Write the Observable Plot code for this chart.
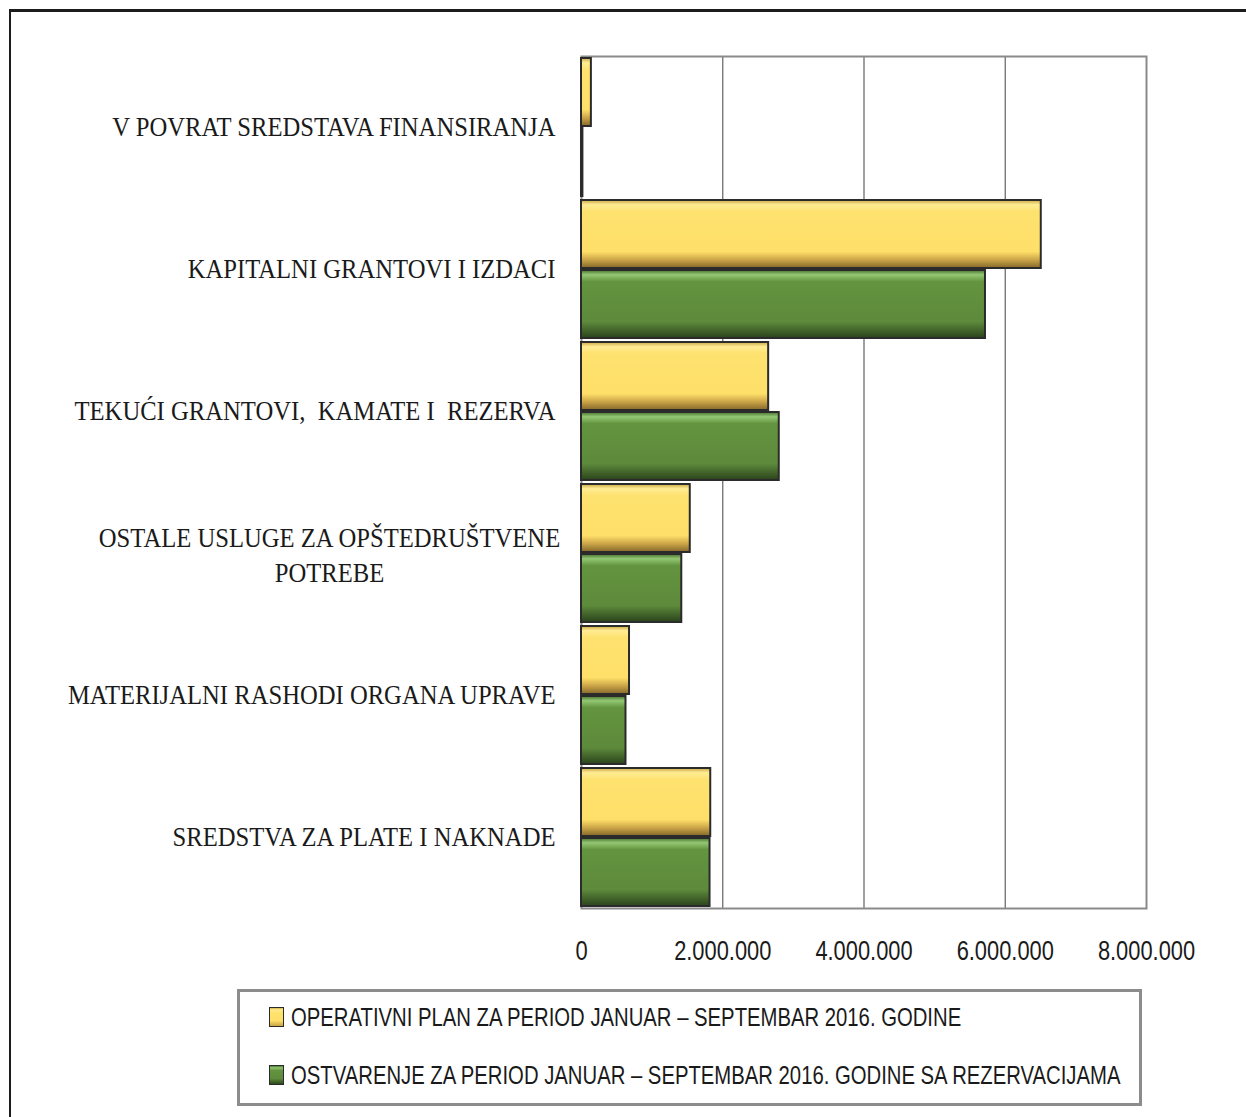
<!DOCTYPE html>
<html>
<head>
<meta charset="utf-8">
<script src="https://cdn.jsdelivr.net/npm/d3@7"></script>
<script src="https://cdn.jsdelivr.net/npm/@observablehq/plot@0.6"></script>
<style>
  html, body { margin: 0; padding: 0; background: #fff; }
  body { width: 1246px; height: 1117px; overflow: hidden; position: relative; }
  #outer { position: absolute; left: 9px; top: 9px; width: 2000px; height: 2000px;
           border-left: 2px solid #1c1c1c; border-top: 3px solid #1c1c1c; }
  #chart { position: absolute; left: 0; top: 0; }
  #legend { position: absolute; left: 237px; top: 989px; width: 899px; height: 111px;
            border: 3px solid #8c8c8c; background: #fff; }
  .item { position: absolute; left: 29px; height: 30px; line-height: 30px; white-space: nowrap; }
  .sw { position: absolute; left: 0; top: 5px; width: 13px; height: 18px; border: 1.5px solid #2b2b2b; }
  .lt { position: absolute; left: 22px; top: 0; display: inline-block; font-family: "Liberation Sans", Arial, sans-serif;
        font-size: 26px; color: #1a1a1a; transform: scaleX(0.78); transform-origin: left center; }
</style>
</head>
<body>
<div id="outer"></div>
<div id="chart"></div>
<div id="legend"></div>
<script>
// ---- data ----
const categories = [
  "V POVRAT SREDSTAVA FINANSIRANJA",
  "KAPITALNI GRANTOVI I IZDACI",
  "TEKUĆI GRANTOVI,  KAMATE I  REZERVA",
  "OSTALE USLUGE ZA OPŠTEDRUŠTVENE\nPOTREBE",
  "MATERIJALNI RASHODI ORGANA UPRAVE",
  "SREDSTVA ZA PLATE I NAKNADE"
];
const planValues   = [140000, 6510000, 2650000, 1540000, 680000, 1830000];
const actualValues = [20000, 5720000, 2800000, 1420000, 630000, 1820000];
const seriesNames = [
  "OPERATIVNI PLAN ZA PERIOD JANUAR – SEPTEMBAR 2016. GODINE",
  "OSTVARENJE ZA PERIOD JANUAR – SEPTEMBAR 2016. GODINE SA REZERVACIJAMA"
];
const xTicks = [0, 2000000, 4000000, 6000000, 8000000];

const data = categories.map((c, i) => ({category: c, plan: planValues[i], actual: actualValues[i]}));
const fmt = d3.formatLocale({decimal: ",", thousands: ".", grouping: [3], currency: ["", ""]}).format(",d");

const singleLine = data.filter(d => !d.category.includes("\n"));
const multiLine = data.filter(d => d.category.includes("\n"));

const chart = Plot.plot({
  width: 1246,
  height: 985,
  marginLeft: 581,
  marginRight: 100,
  marginTop: 56,
  marginBottom: 77,
  style: {background: "transparent", color: "#1a1a1a"},
  x: {domain: [0, 8000000], ticks: xTicks, tickFormat: fmt, tickSize: 0, tickPadding: 32, label: null},
  y: {domain: categories, axis: null, paddingInner: 0.03, paddingOuter: 0.01},
  marks: [
    Plot.ruleX(xTicks.slice(1, -1), {stroke: "#6e6e6e", strokeWidth: 1.3}),
    Plot.frame({stroke: "#8a8a8a", strokeWidth: 2}),
    Plot.barX(data, {y: "category", x: "plan", fill: "url(#gradPlan)", stroke: "#2b2b2b", strokeWidth: 2, insetBottom: 70}),
    Plot.barX(data, {y: "category", x: "actual", fill: "url(#gradActual)", stroke: "#2b2b2b", strokeWidth: 2, insetTop: 70}),
    Plot.text(singleLine, {y: "category", text: "category", frameAnchor: "left", dx: -26, textAnchor: "end",
      fontSize: 28, fontFamily: "Liberation Serif, Times New Roman, serif", fill: "#1a1a1a"}),
    Plot.text(multiLine, {y: "category", text: "category", frameAnchor: "left", dx: -252, textAnchor: "middle",
      lineHeight: 1.25, fontSize: 28, fontFamily: "Liberation Serif, Times New Roman, serif", fill: "#1a1a1a"})
  ]
});

// gradients for bevelled bars
const defs = document.createElementNS("http://www.w3.org/2000/svg", "defs");
defs.innerHTML = `
<linearGradient id="gradPlan" x1="0" y1="0" x2="0" y2="1">
  <stop offset="0" stop-color="#c9a844"/>
  <stop offset="0.07" stop-color="#ffec94"/>
  <stop offset="0.17" stop-color="#fee26f"/>
  <stop offset="0.76" stop-color="#fedf69"/>
  <stop offset="0.87" stop-color="#cfa94a"/>
  <stop offset="1" stop-color="#85672a"/>
</linearGradient>
<linearGradient id="gradActual" x1="0" y1="0" x2="0" y2="1">
  <stop offset="0" stop-color="#46702e"/>
  <stop offset="0.07" stop-color="#94c874"/>
  <stop offset="0.17" stop-color="#64943f"/>
  <stop offset="0.76" stop-color="#5d8a3b"/>
  <stop offset="0.87" stop-color="#46692d"/>
  <stop offset="1" stop-color="#2a431b"/>
</linearGradient>`;
chart.insertBefore(defs, chart.firstChild);

document.getElementById("chart").appendChild(chart);

// tick label font
chart.querySelectorAll('g[aria-label="x-axis tick label"]').forEach(g => {
  g.setAttribute("font-size", 28);
  g.setAttribute("font-family", "Liberation Sans, Arial, sans-serif");
});

// condensed lettering, as in the reference
function condense(selector, factor) {
  chart.querySelectorAll(selector).forEach(t => {
    const spans = t.querySelectorAll("tspan");
    const els = spans.length ? Array.from(spans) : [t];
    els.forEach(el => {
      const len = el.getComputedTextLength();
      el.setAttribute("textLength", (len * factor).toFixed(1));
      el.setAttribute("lengthAdjust", "spacingAndGlyphs");
    });
  });
}
condense('g[aria-label="text"] text', 0.88);
condense('g[aria-label="x-axis tick label"] text', 0.78);

// legend
const legend = document.getElementById("legend");
const grads = [
  "linear-gradient(to bottom, #d6b54c 0%, #ffea8c 10%, #fee26f 25%, #fedf69 70%, #c9a445 100%)",
  "linear-gradient(to bottom, #4d7a33 0%, #8fc46e 10%, #64943f 25%, #5d8a3b 70%, #2e491d 100%)"
];
const rowTops = [10, 68];
seriesNames.forEach((name, i) => {
  const item = document.createElement("div");
  item.className = "item";
  item.style.top = rowTops[i] + "px";
  const sw = document.createElement("span");
  sw.className = "sw";
  sw.style.background = grads[i];
  const lt = document.createElement("span");
  lt.className = "lt";
  lt.textContent = name;
  item.appendChild(sw);
  item.appendChild(lt);
  legend.appendChild(item);
});
</script>
</body>
</html>
